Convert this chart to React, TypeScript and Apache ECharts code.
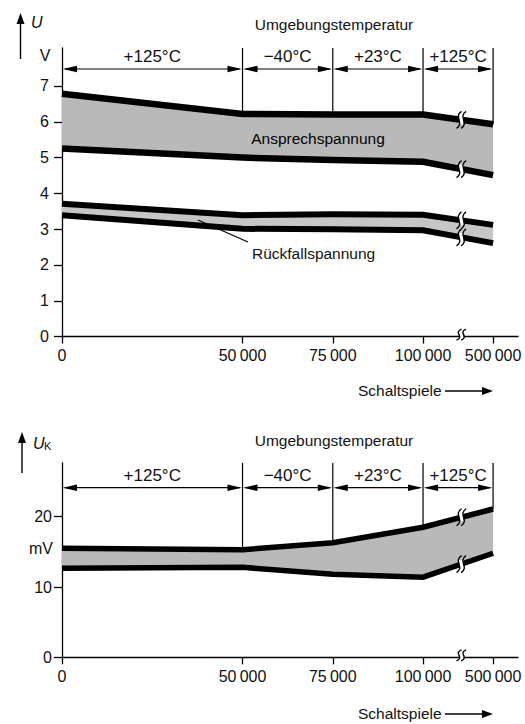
import React, { useEffect, useRef } from "react";
import * as echarts from "echarts";

// ---------- data ----------
const CYCLES = [0, 50000, 75000, 100000, 500000];
const X_LABELS = ["0", "50\u2009000", "75\u2009000", "100\u2009000", "500\u2009000"];
const TEMP_LABELS = ["+125°C", "\u221240°C", "+23°C", "+125°C"];

// Upper chart: U in V
const ANSPRECH_HIGH = [6.78, 6.22, 6.2, 6.2, 5.93];
const ANSPRECH_LOW = [5.25, 5.0, 4.93, 4.88, 4.51];
const RUECKFALL_HIGH = [3.71, 3.39, 3.42, 3.4, 3.12];
const RUECKFALL_LOW = [3.39, 3.01, 3.0, 2.97, 2.61];
const TOP_Y_TICKS = [0, 1, 2, 3, 4, 5, 6, 7];

// Lower chart: U_K in mV
const UK_HIGH = [15.5, 15.3, 16.3, 18.5, 21.1];
const UK_LOW = [12.65, 12.8, 11.8, 11.4, 14.8];
const BOTTOM_Y_TICKS = [0, 10, 20];

// ---------- axis transform (broken axis beyond 100 000) ----------
const LINEAR_END = 100000;
const COMPRESSED_SPAN = 19400; // axis units used for 100 000 .. 500 000
const toAxis = (c: number) =>
  c <= LINEAR_END ? c : LINEAR_END + (COMPRESSED_SPAN * (c - LINEAR_END)) / 400000;
const X_MAX = 126300;
const BREAK_POS = 110600;

const FONT = "'Liberation Sans', Arial, Helvetica, sans-serif";
const INK = "#111";

function atBreak(arr: number[]) {
  const a = toAxis(CYCLES[3]);
  const b = toAxis(CYCLES[4]);
  const t = (BREAK_POS - a) / (b - a);
  return arr[3] + (arr[4] - arr[3]) * t;
}

function xAxisDef(gridIndex: number) {
  const vals = CYCLES.map(toAxis);
  return {
    type: "value",
    gridIndex,
    min: 0,
    max: X_MAX,
    axisLine: { show: true, onZero: false, lineStyle: { color: "#000", width: 1.3 } },
    axisTick: { show: true, length: 7, customValues: vals, lineStyle: { color: "#000", width: 1.3 } },
    axisLabel: {
      customValues: vals,
      margin: 11,
      fontSize: 16,
      fontFamily: FONT,
      color: INK,
      formatter: (v: number) => {
        const i = vals.findIndex((p) => Math.abs(p - v) < 1);
        return i >= 0 ? X_LABELS[i] : "";
      },
    },
    splitLine: { show: false },
  };
}

function yAxisDef(gridIndex: number, max: number, ticks: number[], margin: number) {
  return {
    type: "value",
    gridIndex,
    min: 0,
    max,
    axisLine: { show: true, onZero: false, lineStyle: { color: "#000", width: 1.3 } },
    axisTick: { show: true, length: 8, customValues: ticks, lineStyle: { color: "#000", width: 1.3 } },
    axisLabel: { customValues: ticks, margin, fontSize: 16, fontFamily: FONT, color: INK },
    splitLine: { show: false },
  };
}

function bandSeries(idx: number, high: number[], low: number[], color: string) {
  return {
    type: "custom",
    xAxisIndex: idx,
    yAxisIndex: idx,
    silent: true,
    clip: false,
    z: 1,
    data: [[0, 0]],
    renderItem: (_p: any, api: any) => {
      const pts: number[][] = [];
      CYCLES.forEach((c, i) => pts.push(api.coord([toAxis(c), high[i]])));
      for (let i = CYCLES.length - 1; i >= 0; i--) pts.push(api.coord([toAxis(CYCLES[i]), low[i]]));
      return { type: "polygon", shape: { points: pts }, style: { fill: color } };
    },
  };
}

function lineSeries(idx: number, vals: number[], width: number) {
  return {
    type: "line",
    xAxisIndex: idx,
    yAxisIndex: idx,
    silent: true,
    symbol: "none",
    z: 3,
    lineStyle: { color: "#000", width, cap: "butt", join: "miter" },
    data: CYCLES.map((c, i) => [toAxis(c), vals[i]]),
  };
}

function boundarySeries(idx: number, high: number[]) {
  return {
    type: "custom",
    xAxisIndex: idx,
    yAxisIndex: idx,
    silent: true,
    clip: false,
    z: 2,
    data: CYCLES.slice(1).map((c, i) => [toAxis(c), high[i + 1]]),
    renderItem: (p: any, api: any) => {
      const pt = api.coord([api.value(0), api.value(1)]);
      const top = p.coordSys.y;
      return {
        type: "line",
        shape: { x1: pt[0], y1: top, x2: pt[0], y2: pt[1] },
        style: { stroke: "#000", lineWidth: 1.2 },
      };
    },
  };
}

function dimensionSeries(idx: number, arrowOffset: number, labelOffset: number) {
  const data = TEMP_LABELS.map((_, i) => [toAxis(CYCLES[i]), toAxis(CYCLES[i + 1]), i]);
  return {
    type: "custom",
    xAxisIndex: idx,
    yAxisIndex: idx,
    silent: true,
    clip: false,
    z: 4,
    data,
    renderItem: (p: any, api: any) => {
      const x1 = api.coord([api.value(0), 0])[0];
      const x2 = api.coord([api.value(1), 0])[0];
      const y = p.coordSys.y + arrowOffset;
      const L = 15;
      const H = 3.3;
      const label = TEMP_LABELS[api.value(2)];
      return {
        type: "group",
        children: [
          { type: "line", shape: { x1: x1 + 3, y1: y, x2: x2 - 3, y2: y }, style: { stroke: "#000", lineWidth: 1.2 } },
          { type: "polygon", shape: { points: [[x1 + 0.8, y], [x1 + L, y - H], [x1 + L, y + H]] }, style: { fill: "#000" } },
          { type: "polygon", shape: { points: [[x2 - 0.8, y], [x2 - L, y - H], [x2 - L, y + H]] }, style: { fill: "#000" } },
          {
            type: "text",
            style: {
              text: label,
              x: (x1 + x2) / 2,
              y: y + labelOffset,
              align: "center",
              verticalAlign: "middle",
              textAlign: "center",
              textVerticalAlign: "middle",
              fontSize: 17,
              fontFamily: FONT,
              fill: INK,
            },
          },
        ],
      };
    },
  };
}

function squiggle(cx: number, cy: number, h: number) {
  const hh = h / 2;
  return {
    type: "bezierCurve",
    shape: {
      x1: cx + 2.5, y1: cy - hh,
      cpx1: cx - 6, cpy1: cy - hh * 0.35,
      cpx2: cx + 6, cpy2: cy + hh * 0.35,
      x2: cx - 2.5, y2: cy + hh,
    },
    style: { stroke: "#000", lineWidth: 1.4, fill: null },
  };
}

function breakSeries(idx: number, lines: number[][], lineWidth: number) {
  const data = lines.map((arr) => [BREAK_POS, atBreak(arr), lineWidth]);
  data.push([BREAK_POS, 0, 2]);
  return {
    type: "custom",
    xAxisIndex: idx,
    yAxisIndex: idx,
    silent: true,
    clip: false,
    z: 6,
    data,
    renderItem: (_p: any, api: any) => {
      const pt = api.coord([api.value(0), api.value(1)]);
      const lw = api.value(2);
      const isAxis = lw < 3;
      const h = isAxis ? 11 : 17;
      const cy = isAxis ? pt[1] - 2 : pt[1];
      return {
        type: "group",
        children: [
          {
            type: "rect",
            shape: { x: pt[0] - 2.2, y: pt[1] - lw / 2 - 1.2, width: 4.4, height: lw + 2.4 },
            style: { fill: "#fff" },
          },
          squiggle(pt[0] - 2.3, cy, h),
          squiggle(pt[0] + 2.3, cy, h),
        ],
      };
    },
  };
}

function textEl(text: string, x: number, y: number, size: number, align = "left", extra: any = {}) {
  return {
    type: "text",
    x,
    y,
    style: {
      text,
      align,
      verticalAlign: "middle",
      textAlign: align,
      textVerticalAlign: "middle",
      fontSize: size,
      fontFamily: FONT,
      fill: INK,
      ...extra,
    },
    z: 10,
  };
}

function upArrow(x: number, yTop: number, yBottom: number) {
  return [
    { type: "line", shape: { x1: x, y1: yBottom, x2: x, y2: yTop + 6 }, style: { stroke: "#000", lineWidth: 1.4 }, z: 10 },
    { type: "polygon", shape: { points: [[x, yTop], [x - 4, yTop + 11], [x + 4, yTop + 11]] }, style: { fill: "#000" }, z: 10 },
  ];
}

function rightArrow(x1: number, x2: number, y: number) {
  return [
    { type: "line", shape: { x1, y1: y, x2: x2 - 6, y2: y }, style: { stroke: "#000", lineWidth: 1.3 }, z: 10 },
    { type: "polygon", shape: { points: [[x2, y], [x2 - 11, y - 4], [x2 - 11, y + 4]] }, style: { fill: "#000" }, z: 10 },
  ];
}

export default function App() {
  const ref = useRef<HTMLDivElement>(null);

  useEffect(() => {
    if (!ref.current) return;
    const chart = echarts.init(ref.current, null, { renderer: "svg" });
    const option: any = {
      animation: false,
      backgroundColor: "#fff",
      grid: [
        { left: 62, top: 48, width: 456, height: 288.6 },
        { left: 62, top: 463, width: 456, height: 194.3 },
      ],
      xAxis: [xAxisDef(0), xAxisDef(1)],
      yAxis: [yAxisDef(0, 8.06, TOP_Y_TICKS, 13), yAxisDef(1, 27.64, BOTTOM_Y_TICKS, 10)],
      series: [
        bandSeries(0, ANSPRECH_HIGH, ANSPRECH_LOW, "#b9b9b9"),
        bandSeries(0, RUECKFALL_HIGH, RUECKFALL_LOW, "#c6c6c6"),
        lineSeries(0, ANSPRECH_HIGH, 6.5),
        lineSeries(0, ANSPRECH_LOW, 6.5),
        lineSeries(0, RUECKFALL_HIGH, 6),
        lineSeries(0, RUECKFALL_LOW, 6),
        boundarySeries(0, ANSPRECH_HIGH),
        dimensionSeries(0, 21, -13),
        breakSeries(0, [ANSPRECH_HIGH, ANSPRECH_LOW, RUECKFALL_HIGH, RUECKFALL_LOW], 6.5),

        bandSeries(1, UK_HIGH, UK_LOW, "#b9b9b9"),
        lineSeries(1, UK_HIGH, 5.5),
        lineSeries(1, UK_LOW, 5.5),
        boundarySeries(1, UK_HIGH),
        dimensionSeries(1, 24.7, -12),
        breakSeries(1, [UK_HIGH, UK_LOW], 5.5),
      ],
      graphic: [
        // upper chart annotations
        ...upArrow(20.5, 13, 59),
        textEl("U", 31, 22, 16, "left", { fontStyle: "italic" }),
        textEl("V", 45, 55, 16, "center"),
        textEl("Umgebungstemperatur", 334, 24, 15.5, "center"),
        textEl("Ansprechspannung", 318, 138, 15.5, "center", { fill: "#000" }),
        { type: "line", shape: { x1: 198, y1: 220, x2: 248, y2: 242 }, style: { stroke: "#000", lineWidth: 1.2 }, z: 10 },
        textEl("Rückfallspannung", 252, 253, 15.5, "left"),
        textEl("Schaltspiele", 358, 390, 15.5, "left"),
        ...rightArrow(445, 493, 391),

        // lower chart annotations
        ...upArrow(22, 432, 473),
        textEl("U", 33, 443, 16, "left", { fontStyle: "italic" }),
        textEl("K", 44, 446, 11, "left"),
        textEl("mV", 41, 548, 16, "center"),
        textEl("Umgebungstemperatur", 334, 440, 15.5, "center"),
        textEl("Schaltspiele", 358, 713, 15.5, "left"),
        ...rightArrow(445, 493, 714),
      ],
    };
    chart.setOption(option);
    return () => chart.dispose();
  }, []);

  return (
    <div
      ref={ref}
      style={{ position: "absolute", left: 0, top: 0, width: 525, height: 724, background: "#fff" }}
    />
  );
}
